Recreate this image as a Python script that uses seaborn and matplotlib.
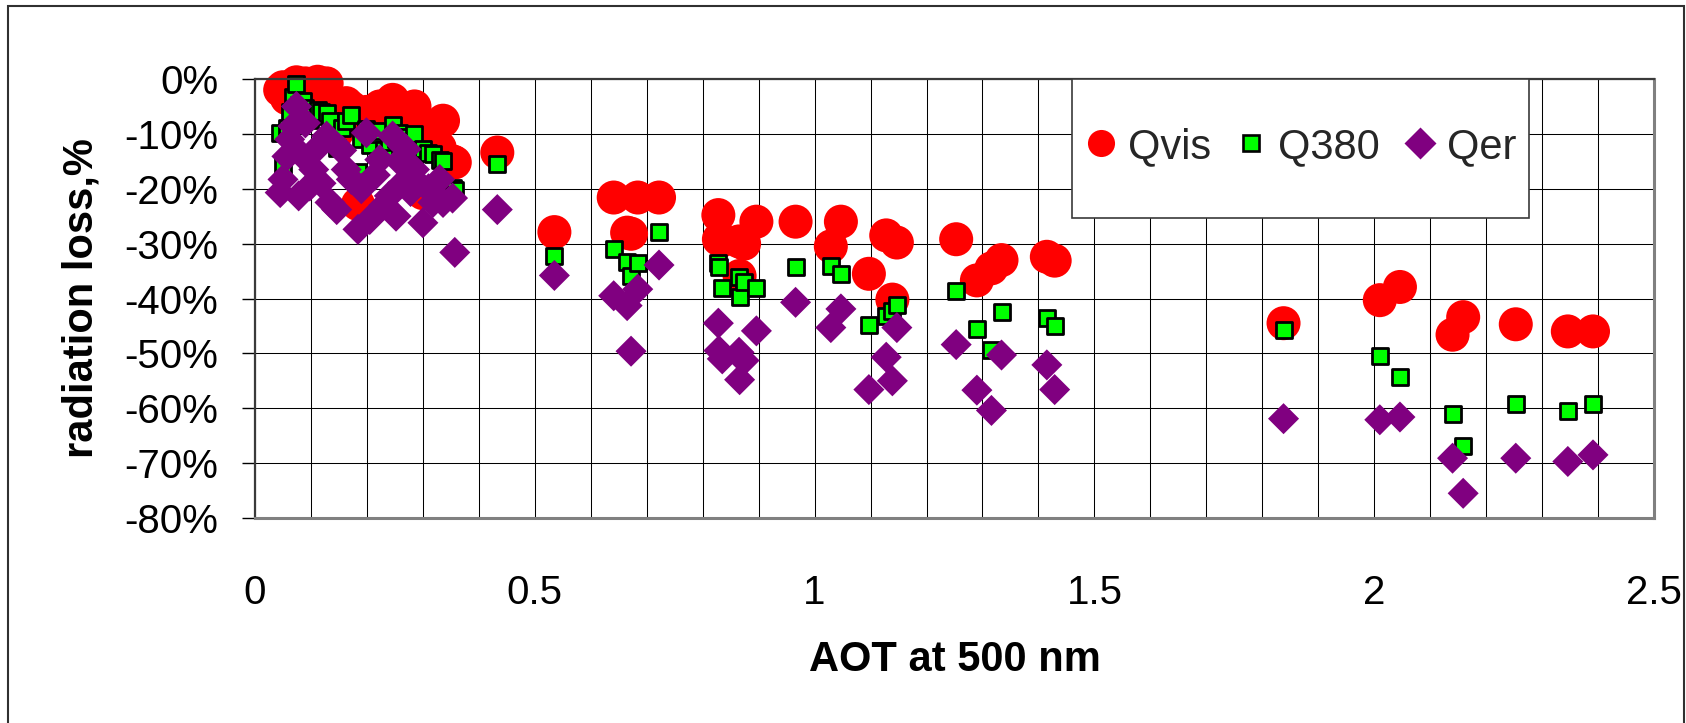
import matplotlib
matplotlib.use("Agg")
import matplotlib.pyplot as plt
import seaborn as sns
import pandas as pd
from matplotlib.ticker import MultipleLocator, FuncFormatter
from matplotlib.lines import Line2D
from matplotlib.patches import Rectangle

# ---------------- data ----------------
aot = [0.045, 0.050, 0.057, 0.062, 0.068, 0.074, 0.078, 0.085, 0.090, 0.098,
       0.105, 0.112, 0.118, 0.128, 0.134, 0.146, 0.155, 0.163, 0.172, 0.184,
       0.190, 0.199, 0.205, 0.215, 0.223, 0.230, 0.240, 0.246, 0.252, 0.258,
       0.264, 0.270, 0.278, 0.285, 0.292, 0.300, 0.310, 0.318, 0.330, 0.336,
       0.353, 0.357,
       0.433, 0.535, 0.641, 0.665, 0.672, 0.684, 0.722, 0.828, 0.829, 0.835,
       0.865, 0.866, 0.874, 0.896, 0.966, 1.029, 1.047, 1.097, 1.128, 1.139,
       1.147, 1.253, 1.290, 1.316, 1.334, 1.415, 1.429, 1.838, 2.010, 2.046,
       2.140, 2.159, 2.253, 2.346, 2.391]

qvis = [-2.0, -1.5, -3.5, -2.5, -1.2, -0.6, -3.0, -1.8, -0.8, -2.5,
        -3.5, -0.5, -2.0, -0.8, -4.0, -9.8, -6.0, -4.4, -5.2, -22.8,
        -8.0, -6.0, -8.0, -7.0, -5.0, -10.0, -9.0, -3.8, -8.5, -6.5,
        -7.0, -6.0, -8.0, -5.0, -9.0, -20.8, -11.0, -10.0, -12.5, -7.6,
        -15.0, -15.2,
        -13.4, -27.9, -21.6, -28.0, -28.2, -21.6, -21.6, -24.8, -29.2, -29.4,
        -29.6, -35.9, -30.0, -26.0, -26.0, -30.5, -26.0, -35.5, -28.5, -40.2,
        -29.8, -29.2, -36.7, -34.5, -33.0, -32.4, -33.1, -44.5, -40.3, -37.9,
        -46.6, -43.4, -44.7, -46.0, -46.0]

q380 = [-9.8, -15.9, -8.9, -6.0, -3.2, -1.0, -4.7, -4.0, -5.3, -7.4,
        -6.8, -5.6, -6.0, -6.2, -7.6, -12.5, -9.0, -7.7, -6.5, -17.0,
        -11.0, -9.2, -12.0, -10.0, -9.5, -13.0, -11.5, -8.3, -11.0, -9.8,
        -11.5, -10.5, -12.0, -10.1, -13.0, -12.8, -13.5, -13.7, -14.7, -15.0,
        -19.8, -20.2,
        -15.4, -32.3, -30.9, -33.4, -35.9, -33.5, -27.9, -33.5, -34.3, -38.0,
        -36.0, -39.8, -37.0, -38.0, -34.2, -34.1, -35.5, -44.8, -43.2, -42.2,
        -41.1, -38.6, -45.6, -49.3, -42.4, -43.6, -45.0, -45.8, -50.4, -54.3,
        -61.1, -66.8, -59.3, -60.5, -59.3]

qer = [-20.7, -18.3, -14.1, -11.0, -8.6, -5.0, -21.3, -14.0, -8.0, -19.5,
       -16.5, -12.5, -19.0, -10.4, -22.5, -23.8, -13.0, -16.5, -18.3, -27.4,
       -20.0, -9.8, -25.6, -17.5, -14.7, -23.0, -21.3, -10.4, -25.0, -15.0,
       -18.9, -12.8, -20.5, -16.5, -19.0, -26.2, -20.0, -22.5, -18.3, -22.5,
       -21.7, -31.6,
       -23.8, -35.8, -39.5, -41.3, -49.6, -38.3, -33.9, -44.5, -49.5, -51.0,
       -49.8, -54.8, -51.3, -45.9, -40.7, -45.3, -41.9, -56.6, -50.7, -55.0,
       -45.3, -48.4, -56.7, -60.4, -50.3, -52.1, -56.6, -61.9, -62.1, -61.6,
       -69.1, -75.5, -69.1, -69.7, -68.5]

series_names = ["Qvis", "Q380", "Qer"]
x_ticks = [0, 0.5, 1, 1.5, 2, 2.5]
x_tick_labels = ["0", "0.5", "1", "1.5", "2", "2.5"]
y_ticks = [0, -10, -20, -30, -40, -50, -60, -70, -80]
x_label = "AOT at 500 nm"
y_label = "radiation loss,%"

df = pd.DataFrame({"AOT": aot, "Qvis": qvis, "Q380": q380, "Qer": qer})

# ---------------- style ----------------
sns.set_theme(style="white")
plt.rcParams["font.family"] = ["Liberation Sans", "DejaVu Sans"]
plt.rcParams["axes.unicode_minus"] = False

W, H = 1686, 723
fig = plt.figure(figsize=(W / 100, H / 100), dpi=100)
fig.patch.set_facecolor("white")
L, R, T, B = 255, 1654, 79, 518
ax = fig.add_axes([L / W, 1 - B / H, (R - L) / W, (B - T) / H])
ax.set_facecolor("white")

red, green, purple = "#FF0000", "#00FF00", "#800080"

sns.scatterplot(data=df, x="AOT", y="Qvis", ax=ax, marker="o", s=600,
                color=red, linewidth=0, edgecolor="none", zorder=3,
                clip_on=False, legend=False)
sns.scatterplot(data=df, x="AOT", y="Q380", ax=ax, marker="s", s=140,
                color=green, linewidth=2.0, edgecolor="black", zorder=4,
                clip_on=False, legend=False)
sns.scatterplot(data=df, x="AOT", y="Qer", ax=ax, marker="D", s=250,
                color=purple, linewidth=0, edgecolor="none", zorder=5,
                clip_on=False, legend=False)

ax.set_xlim(0, 2.5)
ax.set_ylim(-80, 0)
ax.set_xticks(x_ticks)
ax.set_xticklabels(x_tick_labels)
ax.xaxis.set_minor_locator(MultipleLocator(0.1))
ax.set_yticks(y_ticks)
ax.yaxis.set_major_formatter(FuncFormatter(lambda v, p: f"{int(round(v))}%"))

ax.grid(which="both", axis="x", color="black", linewidth=0.75)
ax.grid(which="major", axis="y", color="black", linewidth=0.75)
ax.set_axisbelow(True)

ax.tick_params(axis="x", which="both", length=0, pad=40, labelsize=29,
               bottom=True, labelcolor="black")
ax.tick_params(axis="y", which="major", length=9.4, width=1.0, pad=17,
               labelsize=29, left=True, direction="out", color="black",
               labelcolor="black")

for side in ["left", "top"]:
    ax.spines[side].set_color("#3a3a3a")
    ax.spines[side].set_linewidth(1.6)
for side in ["bottom", "right"]:
    ax.spines[side].set_color("#808080")
    ax.spines[side].set_linewidth(2.2)
for s in ax.spines.values():
    s.set_zorder(6)

ax.set_xlabel(x_label, fontsize=30, fontweight="bold", color="black")
ax.xaxis.set_label_coords(0.5, -0.279)
ax.set_ylabel(y_label, fontsize=30, fontweight="bold", color="black")
ax.yaxis.set_label_coords(-0.1098, 0.5)

# legend box
box = Rectangle((1072 / W, 1 - 218 / H), (1529 - 1072) / W, (218 - 79) / H,
                transform=fig.transFigure, facecolor="white",
                edgecolor="#3a3a3a", linewidth=1.2, zorder=10, clip_on=False)
ax.add_patch(box)

handles = [
    Line2D([], [], ls="none", marker="o", markersize=19.5,
           markerfacecolor=red, markeredgecolor="none"),
    Line2D([], [], ls="none", marker="s", markersize=11,
           markerfacecolor=green, markeredgecolor="black", markeredgewidth=1.9),
    Line2D([], [], ls="none", marker="D", markersize=15.8,
           markerfacecolor=purple, markeredgecolor="none"),
]
leg = ax.legend(handles, series_names, ncol=3, frameon=False, fontsize=30,
                handlelength=0.8, handletextpad=0.25, columnspacing=0.56,
                borderpad=0, borderaxespad=0, loc="center left",
                bbox_to_anchor=(1084.3 / W, 1 - 147 / H),
                bbox_transform=fig.transFigure)
leg.set_zorder(11)

# outer chart border
fig.patches.append(Rectangle((7.5 / W, -0.05), (1684 - 7.5) / W, 1.05 - 6 / H,
                             transform=fig.transFigure, fill=False,
                             edgecolor="#303030", linewidth=1.5))

fig.savefig("out.png", dpi=100)
